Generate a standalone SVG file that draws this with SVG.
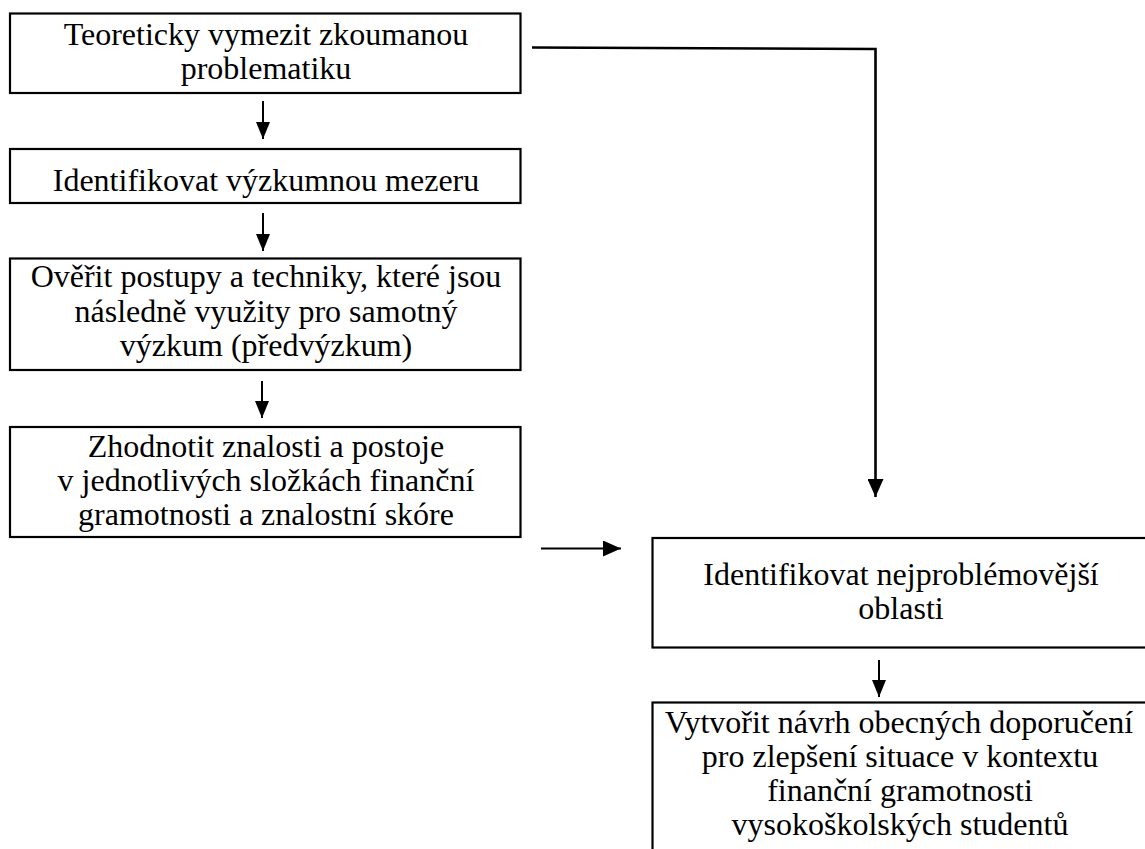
<svg xmlns="http://www.w3.org/2000/svg" width="1145" height="849" viewBox="0 0 1145 849">
<style>
.box{fill:#fff;stroke:#000;stroke-width:2.2}
text{font-family:'Liberation Serif','Times New Roman','DejaVu Serif',serif;font-size:32px;fill:#000;text-anchor:middle}
.c{fill:none;stroke:#000;stroke-width:2}
.cl{fill:none;stroke:#000;stroke-width:2.6}
</style>
<defs>
<marker id="ah" viewBox="0 0 17 14" refX="17" refY="7" markerWidth="17" markerHeight="14" markerUnits="userSpaceOnUse" orient="auto">
<path d="M0,0 L17,7 L0,14 Z" fill="#000"/>
</marker>
<marker id="ahl" viewBox="0 0 18 16" refX="18" refY="8" markerWidth="18" markerHeight="16" markerUnits="userSpaceOnUse" orient="auto">
<path d="M0,0 L18,8 L0,16 Z" fill="#000"/>
</marker>
</defs>
<rect width="1145" height="849" fill="#fff"/>
<g id="connectors">
<line class="c" x1="263" y1="101" x2="263" y2="139" marker-end="url(#ah)"/>
<line class="c" x1="263" y1="213" x2="263" y2="251" marker-end="url(#ah)"/>
<line class="c" x1="262" y1="381" x2="262" y2="418" marker-end="url(#ah)"/>
<line class="c" x1="541" y1="548.5" x2="621" y2="548.5" marker-end="url(#ahl)"/>
<line class="c" x1="879" y1="660" x2="879" y2="697" marker-end="url(#ah)"/>
<polyline class="cl" points="532,47.5 875.5,49 875.5,497" marker-end="url(#ahl)"/>
</g>
<g id="n1">
<rect class="box" x="10" y="13.5" width="510.5" height="79.5"/>
<text x="266" y="45" font-family="Liberation Serif, serif">Teoreticky vymezit zkoumanou</text>
<text x="266" y="79" font-family="Liberation Serif, serif">problematiku</text>
</g>
<g id="n2">
<rect class="box" x="10" y="149" width="510.5" height="54"/>
<text x="266" y="191" font-family="Liberation Serif, serif">Identifikovat výzkumnou mezeru</text>
</g>
<g id="n3">
<rect class="box" x="10" y="258.5" width="510.5" height="111.5"/>
<text x="266" y="287" font-family="Liberation Serif, serif">Ověřit postupy a techniky, které jsou</text>
<text x="266" y="322" font-family="Liberation Serif, serif">následně využity pro samotný</text>
<text x="266" y="356" font-family="Liberation Serif, serif">výzkum (předvýzkum)</text>
</g>
<g id="n4">
<rect class="box" x="10" y="427" width="510.5" height="110"/>
<text x="266" y="457" font-family="Liberation Serif, serif">Zhodnotit znalosti a postoje</text>
<text x="266" y="491" font-family="Liberation Serif, serif">v jednotlivých složkách finanční</text>
<text x="266" y="525" font-family="Liberation Serif, serif">gramotnosti a znalostní skóre</text>
</g>
<g id="n5">
<rect class="box" x="652.5" y="538" width="496" height="109.5"/>
<text x="901" y="585" font-family="Liberation Serif, serif">Identifikovat nejproblémovější</text>
<text x="901" y="619" font-family="Liberation Serif, serif">oblasti</text>
</g>
<g id="n6">
<rect class="box" x="652.5" y="702.5" width="496" height="170"/>
<text x="899" y="733" font-family="Liberation Serif, serif">Vytvořit návrh obecných doporučení</text>
<text x="900" y="767" font-family="Liberation Serif, serif">pro zlepšení situace v kontextu</text>
<text x="900" y="801" font-family="Liberation Serif, serif">finanční gramotnosti</text>
<text x="900" y="835" font-family="Liberation Serif, serif">vysokoškolských studentů</text>
</g>
</svg>
